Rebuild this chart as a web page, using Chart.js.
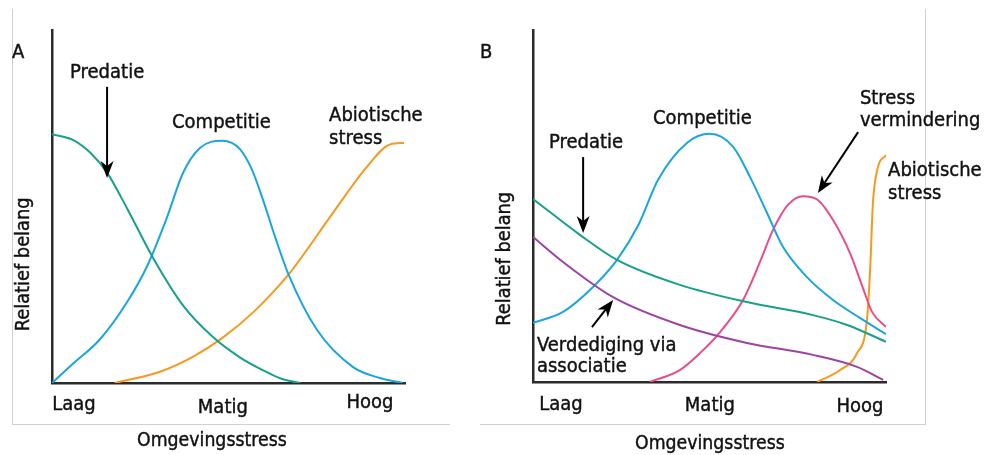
<!DOCTYPE html>
<html><head><meta charset="utf-8">
<script src="https://cdn.jsdelivr.net/npm/chart.js@4/dist/chart.umd.min.js"></script>
<style>
html,body{margin:0;padding:0;background:#fff;}
#wrap{position:relative;width:985px;height:455px;overflow:hidden;background:#fff;}
canvas{position:absolute;top:0;}
.fr{position:absolute;background:#d0d0d0;}
</style></head><body>
<div id="wrap">
<div class="fr" style="left:12px;top:9px;width:1px;height:416px"></div>
<div class="fr" style="left:12px;top:424px;width:438px;height:1px"></div>
<div class="fr" style="left:480px;top:424px;width:446px;height:1px"></div>
<div class="fr" style="left:925px;top:9px;width:1px;height:416px"></div>
<canvas id="cA" width="470" height="455" style="left:0"></canvas>
<canvas id="cB" width="515" height="455" style="left:470px"></canvas>
</div>
<script>
// ---------- data ----------
const xTickLabels = ['Laag', 'Matig', 'Hoog'];
const tickPosA = [6.2, 48.4, 90.1];
const tickPosB = [7.9, 50.1, 92.6];

// Panel A
const predA_x = [0, 5.9, 10.8, 15.6, 21.2, 28.6, 37.1, 45.6, 53.3, 60.0, 65.0, 70.3];
const predA_y = [70.5, 68.9, 65.3, 59.6, 49.6, 35.5, 22.0, 13.0, 7.2, 3.5, 1.2, 0];
const compA_x = [0, 6.0, 13.6, 21.2, 26.9, 32.6, 37.1, 41.9, 48.2, 53.3, 56.7, 59.8, 63.2, 66.9, 75.1, 85.3, 92.9, 99.4];
const compA_y = [0, 5.5, 12.4, 22.8, 33.0, 47.0, 59.5, 66.6, 68.6, 66.2, 60.3, 51.8, 41.4, 31.0, 15.0, 4.5, 1.4, 0];
const abioA_x = [17.8, 30.6, 40.0, 48.2, 57.5, 66.9, 79.6, 89.2, 95.8, 99.7];
const abioA_y = [0, 3.2, 7.5, 12.7, 20.5, 30.6, 48.2, 61.2, 67.6, 68.0];

// Panel B
const predB_x = [0, 13.3, 23.8, 41.6, 60.6, 79.3, 89.0, 100];
const predB_y = [52.0, 41.8, 34.7, 27.6, 22.7, 19.0, 16.2, 11.4];
const assocB_x = [0, 8.5, 22.7, 41.6, 60.6, 79.3, 91.8, 99.2];
const assocB_y = [41.2, 34.1, 24.1, 16.2, 11.1, 7.7, 4.3, 0.6];
const compB_x = [0, 8.5, 17.0, 23.8, 30.0, 35.4, 43.6, 50.1, 56.7, 61.5, 66.3, 70.8, 77.6, 85.0, 92.6, 100];
const compB_y = [16.8, 19.9, 27.0, 34.7, 44.9, 57.4, 67.9, 70.5, 66.8, 58.2, 48.0, 38.4, 29.8, 23.3, 18.2, 13.6];
const reliefB_x = [33.1, 41.6, 47.3, 53.0, 59.5, 64.3, 68.0, 72.2, 76.5, 80.7, 85.0, 89.8, 93.5, 96.0, 100];
const reliefB_y = [0, 3.4, 8.2, 14.2, 23.3, 34.1, 43.2, 50.3, 52.8, 51.7, 46.0, 36.6, 26.6, 20.0, 15.6];
const abioB_x = [80.5, 87.0, 91.8, 94.6, 95.5, 96.3, 97.5, 100];
const abioB_y = [0, 3.4, 8.2, 17.6, 31.8, 50.9, 60.2, 64.5];

// annotations (in data coordinates, text baseline)
const notesA = [
  {t: 'A', x: -11.3, y: 92.1},
  {t: 'Predatie', x: 5.1, y: 86.4},
  {t: 'Competitie', x: 34.0, y: 72.2},
  {t: 'Abiotische', x: 78.5, y: 74.2},
  {t: 'stress', x: 78.5, y: 67.7}
];
const arrowsA = [{x1: 15.6, y1: 83.9, x2: 15.6, y2: 58.1}];
const notesB = [
  {t: 'B', x: -15.0, y: 92.0},
  {t: 'Predatie', x: 4.5, y: 66.5},
  {t: 'Competitie', x: 34.0, y: 73.3},
  {t: 'Stress', x: 92.6, y: 79.0},
  {t: 'vermindering', x: 92.6, y: 72.6},
  {t: 'Abiotische', x: 100.6, y: 58.5},
  {t: 'stress', x: 100.6, y: 52.0},
  {t: 'Verdediging via', x: 1.1, y: 8.8},
  {t: 'associatie', x: 1.1, y: 2.8}
];
const arrowsB = [
  {x1: 14.2, y1: 63.9, x2: 14.2, y2: 42.3},
  {x1: 92.1, y1: 71.0, x2: 80.7, y2: 53.7},
  {x1: 16.7, y1: 15.6, x2: 22.7, y2: 23.3}
];
const xTitle = 'Omgevingsstress';
const yTitle = 'Relatief belang';
const titlePosA = {xt: 45.3, yt: -17.8, yx: -8.0, yy: 33.6};
const titlePosB = {xt: 50.1, yt: -19.0, yx: -7.9, yy: 35.0};
const tickDropA = [27, 29.5, 25];
const tickDropB = [28, 29, 29.5];

// ---------- styling ----------
const FONT = "'DejaVu Sans', Verdana, sans-serif";
const SX = 0.9;
const C = {teal: '#17a08a', blue: '#1aa6dc', orange: '#f7981f', pink: '#e84d8b', purple: '#9a45a1', axis: '#2b2b2b'};

function pts(xs, ys) { return xs.map((x, i) => ({x: x, y: ys[i]})); }
function ds(xs, ys, color) {
  return {data: pts(xs, ys), borderColor: color, borderWidth: 2, pointRadius: 0,
          fill: false, cubicInterpolationMode: 'monotone', showLine: true};
}

function drawArrow(ctx, x1, y1, x2, y2) {
  const ang = Math.atan2(y2 - y1, x2 - x1);
  const L = 17, W = 6.5, N = 5;
  const c = Math.cos(ang), s = Math.sin(ang);
  const bx = x2 - L * c, by = y2 - L * s;
  const nx = x2 - (L - N) * c, ny = y2 - (L - N) * s;
  ctx.save();
  ctx.strokeStyle = '#000'; ctx.fillStyle = '#000'; ctx.lineWidth = 2;
  ctx.beginPath(); ctx.moveTo(x1, y1); ctx.lineTo(nx, ny); ctx.stroke();
  const px = -s, py = c;
  ctx.beginPath();
  ctx.moveTo(x2, y2);
  ctx.lineTo(bx + px * W, by + py * W);
  ctx.lineTo(nx, ny);
  ctx.lineTo(bx - px * W, by - py * W);
  ctx.closePath(); ctx.fill();
  ctx.restore();
}

function text(ctx, t, x, y, size, align, sx) {
  ctx.save();
  ctx.font = size + 'px ' + FONT;
  ctx.textAlign = align;
  ctx.strokeStyle = ctx.fillStyle;
  ctx.lineWidth = 0.45;
  ctx.translate(x, y);
  ctx.scale(sx, 1);
  ctx.fillText(t, 0, 0);
  ctx.strokeText(t, 0, 0);
  ctx.restore();
}

function notesPlugin(notes, arrows, tp, tickPos, tickDrop) {
  return {
    id: 'notes',
    afterDraw(chart) {
      const ctx = chart.ctx, sx = chart.scales.x, sy = chart.scales.y;
      ctx.save();
      ctx.fillStyle = '#111';
      ctx.textBaseline = 'alphabetic';
      notes.forEach(n => text(ctx, n.t, sx.getPixelForValue(n.x), sy.getPixelForValue(n.y), 20, 'left', SX));
      arrows.forEach(a => drawArrow(ctx, sx.getPixelForValue(a.x1), sy.getPixelForValue(a.y1),
                                    sx.getPixelForValue(a.x2), sy.getPixelForValue(a.y2)));
      const base = sy.getPixelForValue(0);
      tickPos.forEach((v, i) => text(ctx, xTickLabels[i], sx.getPixelForValue(v), base + tickDrop[i], 20, 'center', SX));
      text(ctx, xTitle, sx.getPixelForValue(tp.xt), sy.getPixelForValue(tp.yt), 19.5, 'center', 0.89);
      ctx.translate(sx.getPixelForValue(tp.yx), sy.getPixelForValue(tp.yy));
      ctx.rotate(-Math.PI / 2);
      ctx.textBaseline = 'middle';
      text(ctx, yTitle, 0, 0, 20, 'center', 0.89);
      ctx.restore();
    }
  };
}

function makeChart(id, datasets, tickPos, tickDrop, yWidth, xHeight, padRight, notes, arrows, tp) {
  return new Chart(document.getElementById(id), {
    type: 'scatter',
    data: {datasets: datasets},
    options: {
      responsive: false, animation: false,
      layout: {padding: {top: 30, right: padRight, left: 0, bottom: 0}},
      plugins: {legend: {display: false}, tooltip: {enabled: false}},
      scales: {
        x: {type: 'linear', min: 0, max: 100, position: 'bottom',
            grid: {display: false, drawTicks: false},
            border: {display: true, color: C.axis, width: 2.5},
            ticks: {display: false},
            afterBuildTicks: s => { s.ticks = tickPos.map(v => ({value: v})); },
            afterFit: s => { s.height = xHeight; }},
        y: {type: 'linear', min: 0, max: 100,
            grid: {display: false, drawTicks: false},
            border: {display: true, color: C.axis, width: 2.5},
            ticks: {display: false},
            afterFit: s => { s.width = yWidth; }}
      }
    },
    plugins: [notesPlugin(notes, arrows, tp, tickPos, tickDrop)]
  });
}

makeChart('cA', [
  ds(predA_x, predA_y, C.teal),
  ds(compA_x, compA_y, C.blue),
  ds(abioA_x, abioA_y, C.orange)
], tickPosA, tickDropA, 52, 72, 65, notesA, arrowsA, titlePosA);

makeChart('cB', [
  ds(predB_x, predB_y, C.teal),
  ds(assocB_x, assocB_y, C.purple),
  ds(compB_x, compB_y, C.blue),
  ds(reliefB_x, reliefB_y, C.pink),
  ds(abioB_x, abioB_y, C.orange)
], tickPosB, tickDropB, 63, 73, 99, notesB, arrowsB, titlePosB);
</script>
</body></html>
